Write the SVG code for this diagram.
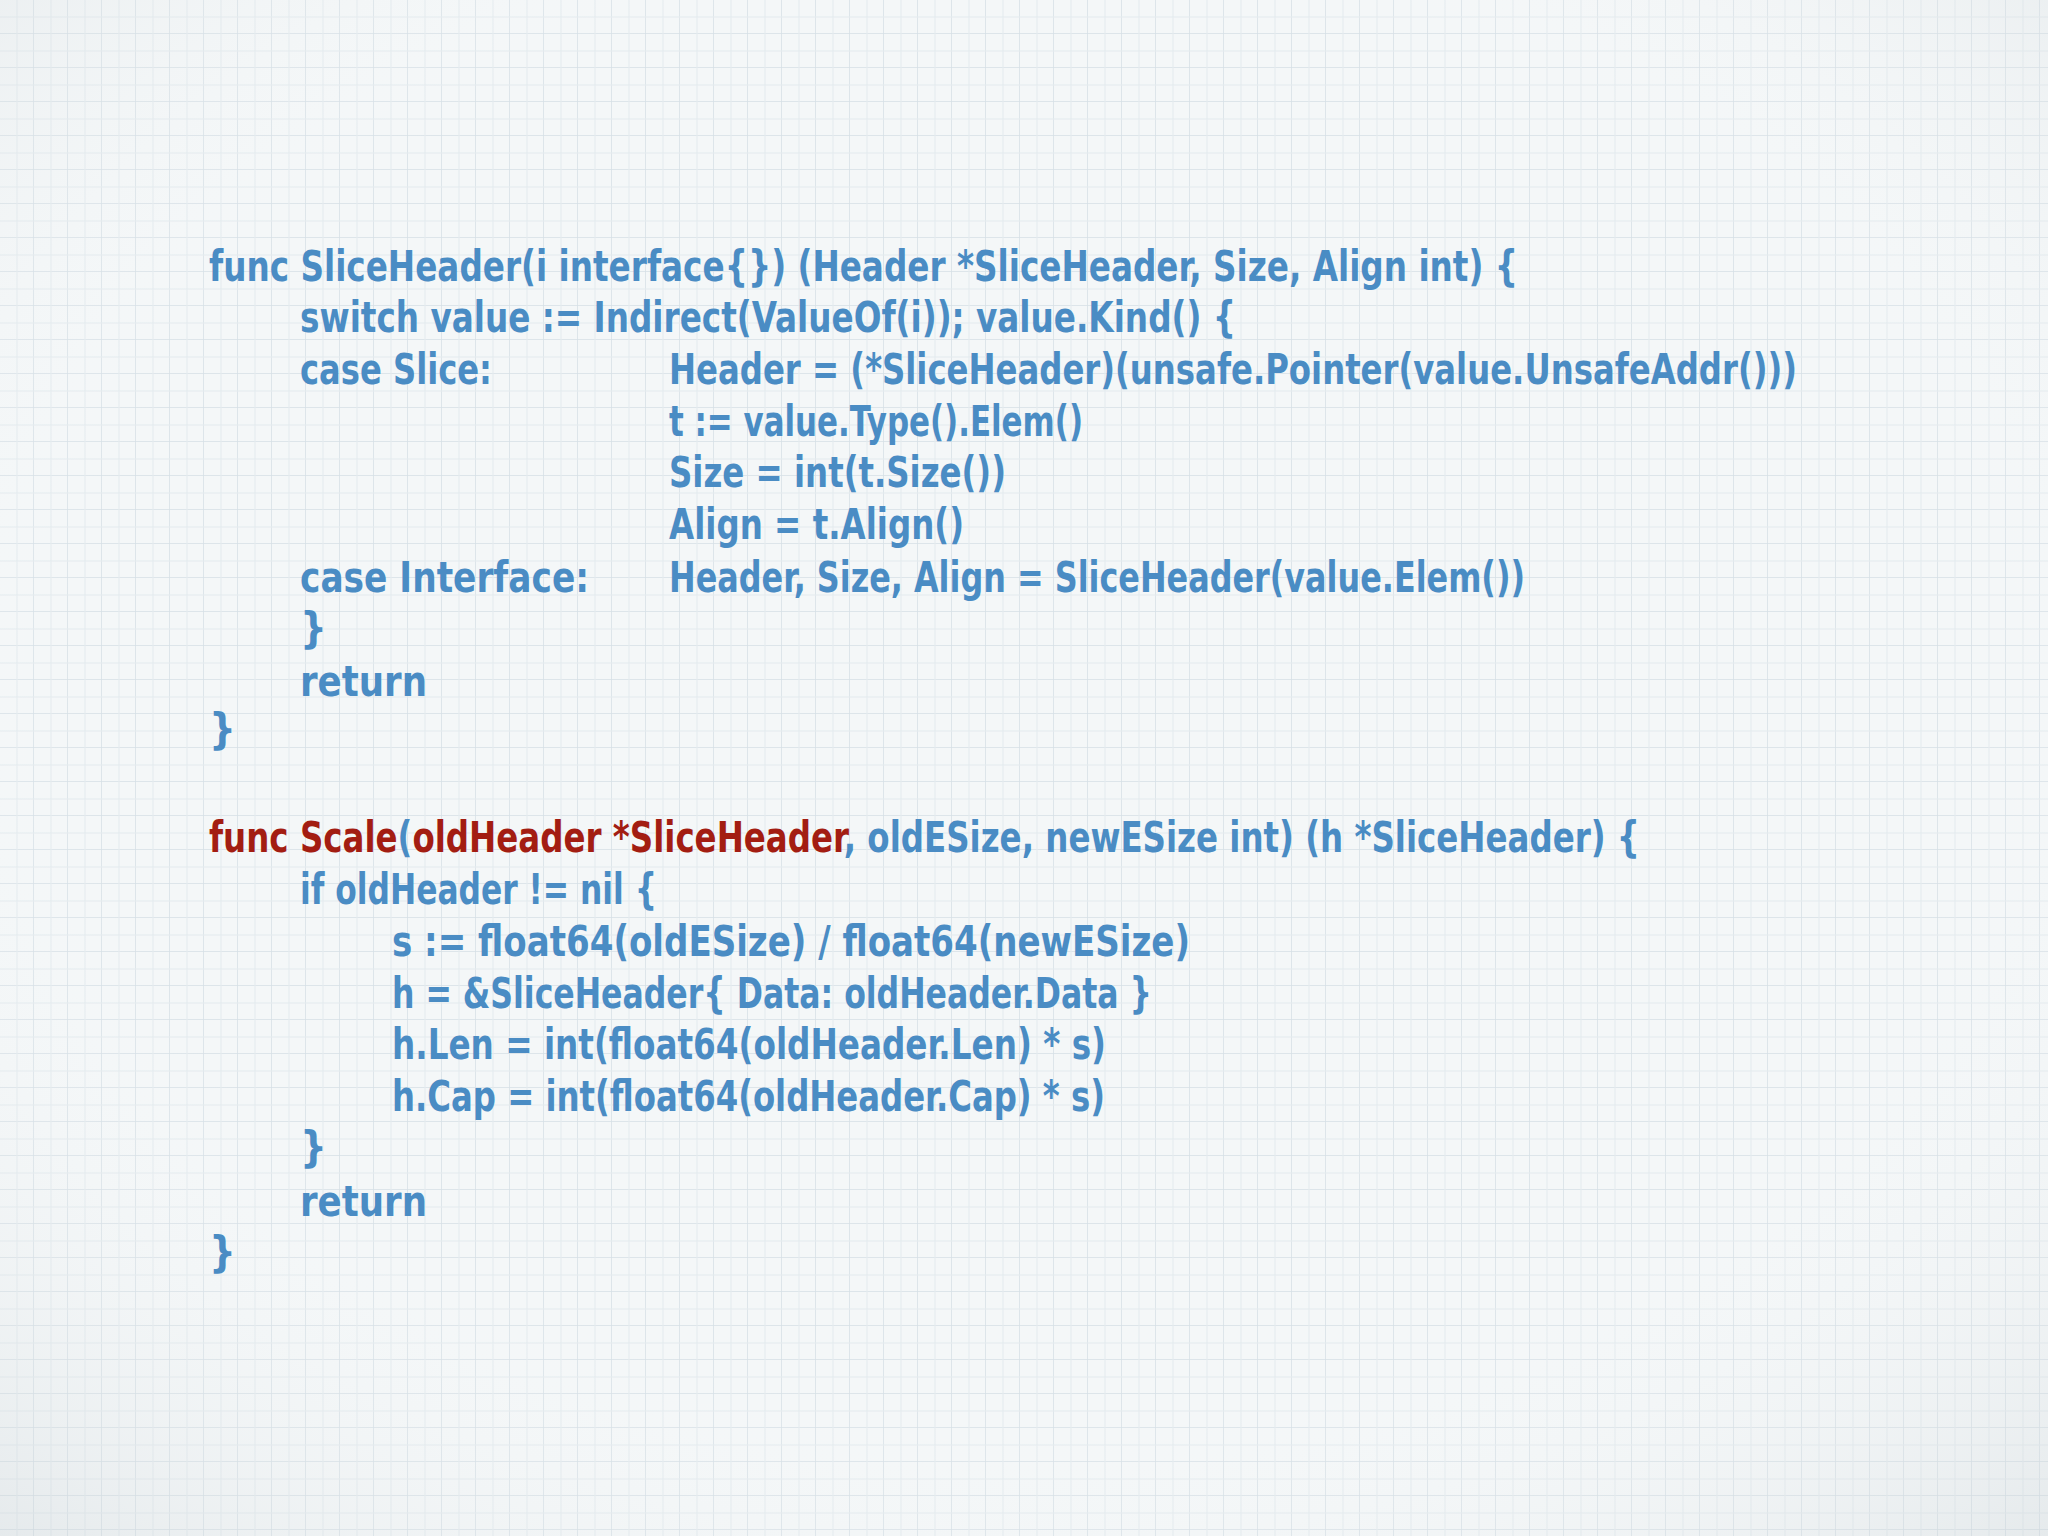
<svg xmlns="http://www.w3.org/2000/svg" width="2048" height="1536" viewBox="0 0 2048 1536">
<defs>
<pattern id="g" width="34" height="34" patternUnits="userSpaceOnUse">
<path d="M34 0V34M0 34H34" stroke="#d6e0e6" stroke-width="1.5" fill="none"/>
<path d="M17 0V34M0 17H34" stroke="#e3eaee" stroke-width="1" fill="none"/>
</pattern>
<radialGradient id="v" cx="50%" cy="45%" r="75%">
<stop offset="0.6" stop-color="#fff" stop-opacity="0"/>
<stop offset="1" stop-color="#c8d0d4" stop-opacity="0.35"/>
</radialGradient>
</defs>
<style>
text{font-family:"DejaVu Sans Condensed","Liberation Sans Narrow","Liberation Sans",sans-serif;font-size:42px;font-weight:bold;fill:#4a8cc4}
.r{fill:#a31d12}
</style>
<rect width="2048" height="1536" fill="#f4f7f8"/>
<rect width="2048" height="1536" fill="url(#g)"/>
<rect width="2048" height="1536" fill="url(#v)"/>
<g id="code1">
<text x="209" y="281" textLength="1309" lengthAdjust="spacingAndGlyphs">func SliceHeader(i interface{}) (Header *SliceHeader, Size, Align int) {</text>
<text x="300" y="332" textLength="936" lengthAdjust="spacingAndGlyphs">switch value := Indirect(ValueOf(i)); value.Kind() {</text>
<text x="300" y="384" textLength="192" lengthAdjust="spacingAndGlyphs">case Slice:</text>
<text x="669" y="384" textLength="1128" lengthAdjust="spacingAndGlyphs">Header = (*SliceHeader)(unsafe.Pointer(value.UnsafeAddr()))</text>
<text x="669" y="436" textLength="414" lengthAdjust="spacingAndGlyphs">t := value.Type().Elem()</text>
<text x="669" y="487" textLength="337" lengthAdjust="spacingAndGlyphs">Size = int(t.Size())</text>
<text x="669" y="539" textLength="295" lengthAdjust="spacingAndGlyphs">Align = t.Align()</text>
<text x="300" y="592" textLength="289" lengthAdjust="spacingAndGlyphs">case Interface:</text>
<text x="669" y="592" textLength="856" lengthAdjust="spacingAndGlyphs">Header, Size, Align = SliceHeader(value.Elem())</text>
<text x="300" y="643">}</text>
<text x="300" y="696" textLength="127" lengthAdjust="spacingAndGlyphs">return</text>
<text x="209" y="744">}</text>
</g>
<g id="code2">
<text x="209" y="852" textLength="1431" lengthAdjust="spacingAndGlyphs"><tspan class="r">func Scale</tspan>(<tspan class="r">oldHeader *SliceHeader</tspan>, oldESize, newESize int) (h *SliceHeader) {</text>
<text x="300" y="904" textLength="357" lengthAdjust="spacingAndGlyphs">if oldHeader != nil {</text>
<text x="392" y="956" textLength="798" lengthAdjust="spacingAndGlyphs">s := float64(oldESize) / float64(newESize)</text>
<text x="392" y="1008" textLength="760" lengthAdjust="spacingAndGlyphs">h = &amp;SliceHeader{ Data: oldHeader.Data }</text>
<text x="392" y="1059" textLength="714" lengthAdjust="spacingAndGlyphs">h.Len = int(float64(oldHeader.Len) * s)</text>
<text x="392" y="1111" textLength="713" lengthAdjust="spacingAndGlyphs">h.Cap = int(float64(oldHeader.Cap) * s)</text>
<text x="300" y="1162">}</text>
<text x="300" y="1216" textLength="127" lengthAdjust="spacingAndGlyphs">return</text>
<text x="209" y="1267">}</text>
</g>
</svg>
